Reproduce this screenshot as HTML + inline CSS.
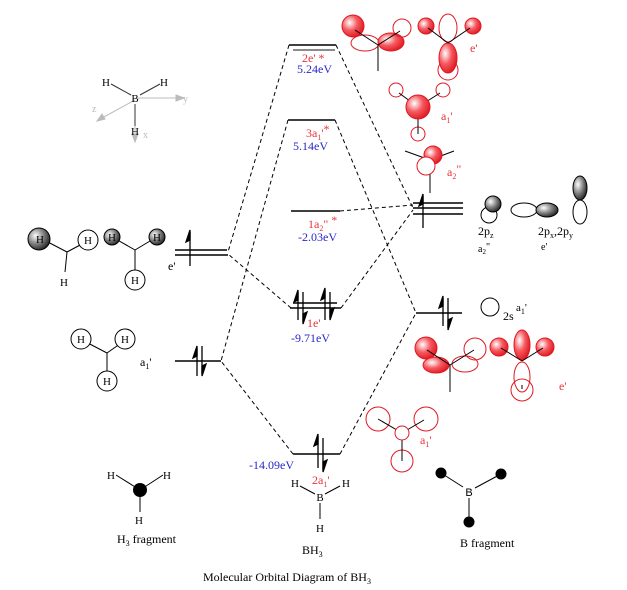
<!DOCTYPE html>
<html><head><meta charset="utf-8"><style>
html,body{margin:0;padding:0;background:#fff;}
svg{display:block;}
text{font-family:"Liberation Serif",serif;}
.s{font-family:"Liberation Sans",sans-serif;}
.r{fill:#e8343c;}
.b{fill:#2828c8;}
</style></head><body>
<svg width="627" height="590" viewBox="0 0 627 590" xmlns="http://www.w3.org/2000/svg">
<defs>
<radialGradient id="rg" cx="0.35" cy="0.35" r="0.7"><stop offset="0" stop-color="#fff"/><stop offset="0.5" stop-color="#f45a60"/><stop offset="1" stop-color="#e01822"/></radialGradient>
<radialGradient id="gg" cx="0.35" cy="0.35" r="0.7"><stop offset="0" stop-color="#fff"/><stop offset="0.5" stop-color="#888"/><stop offset="1" stop-color="#222"/></radialGradient>
</defs>

<!-- dashed connectors -->
<g stroke="#000" stroke-width="1" stroke-dasharray="4,3" fill="none">
<line x1="289" y1="45" x2="228" y2="252"/>
<line x1="336" y1="45" x2="413" y2="208"/>
<line x1="288" y1="120" x2="221" y2="361"/>
<line x1="335" y1="120" x2="416" y2="313"/>
<line x1="340" y1="211" x2="413" y2="205"/>
<line x1="291" y1="308" x2="228" y2="254"/>
<line x1="341" y1="308" x2="413" y2="210"/>
<line x1="293" y1="454" x2="221" y2="361"/>
<line x1="340" y1="454" x2="416" y2="313"/>
</g>

<!-- levels -->
<g stroke="#000" stroke-width="1.5">
<line x1="289" y1="45" x2="336" y2="45"/>
<line x1="293" y1="50" x2="335" y2="50" stroke="#666"/>
<line x1="288" y1="120" x2="335" y2="120"/>
<line x1="291" y1="211" x2="340" y2="211"/>
<line x1="293" y1="303" x2="337" y2="303"/>
<line x1="290" y1="308" x2="341" y2="308"/>
<line x1="293" y1="454" x2="340" y2="454"/>
<line x1="175" y1="250" x2="227" y2="250"/>
<line x1="175" y1="255" x2="228" y2="255"/>
<line x1="175" y1="361" x2="221" y2="361"/>
<line x1="413" y1="203" x2="463" y2="203"/>
<line x1="413" y1="208" x2="463" y2="208"/>
<line x1="413" y1="214" x2="463" y2="214"/>
<line x1="416" y1="313" x2="462" y2="313"/>
</g>

<!-- electrons -->
<g stroke="#000" stroke-width="1.3" fill="#000">
<!-- left e' single up -->
<line x1="190" y1="266" x2="190" y2="232"/><polygon points="190,230 186,242 190,240"/>
<!-- left a1' pair -->
<line x1="197" y1="376" x2="197" y2="348"/><polygon points="197,346 193,358 197,356"/>
<line x1="202" y1="346" x2="202" y2="374"/><polygon points="202,376 206,364 202,366"/>
<!-- 1e' pairs -->
<line x1="298" y1="320" x2="298" y2="292"/><polygon points="298,290 294,302 298,300"/>
<line x1="303" y1="292" x2="303" y2="322"/><polygon points="303,324 307,312 303,314"/>
<line x1="325" y1="320" x2="325" y2="290"/><polygon points="325,288 321,300 325,298"/>
<line x1="330" y1="292" x2="330" y2="318"/><polygon points="330,320 334,308 330,310"/>
<!-- 2a1' -->
<line x1="318" y1="468" x2="318" y2="436"/><polygon points="318,434 314,446 318,444"/>
<line x1="323" y1="438" x2="323" y2="470"/><polygon points="323,472 327,460 323,462"/>
<!-- 2s -->
<line x1="443" y1="326" x2="443" y2="298"/><polygon points="443,296 439,308 443,306"/>
<line x1="448" y1="298" x2="448" y2="328"/><polygon points="448,330 452,318 448,320"/>
<!-- 2p single up -->
<line x1="423" y1="228" x2="423" y2="196"/><polygon points="423,194 419,206 423,204"/>
</g>

<!-- level labels -->
<g font-size="12">
<text x="302" y="62" class="r">2e' *</text>
<text x="297" y="73" class="b">5.24eV</text>
<text x="306" y="137" class="r">3a<tspan font-size="8" dy="3">1</tspan><tspan dy="-3">'</tspan><tspan dy="-4">*</tspan></text>
<text x="293" y="150" class="b">5.14eV</text>
<text x="308" y="228" class="r">1a<tspan font-size="8" dy="3">2</tspan><tspan dy="-3">"  </tspan><tspan dy="-4">*</tspan></text>
<text x="298" y="241" class="b">-2.03eV</text>
<text x="307" y="327" class="r">1e'</text>
<text x="291" y="342" class="b">-9.71eV</text>
<text x="249" y="469" class="b">-14.09eV</text>
<text x="312" y="484" class="r">2a<tspan font-size="8" dy="3">1</tspan><tspan dy="-3">'</tspan></text>
<text x="168" y="270">e'</text>
<text x="140" y="366">a<tspan font-size="8" dy="3">1</tspan><tspan dy="-3">'</tspan></text>
</g>

<!-- top e' orbitals -->
<g stroke="#e01822" stroke-width="1">
<ellipse cx="365" cy="43" rx="14" ry="8" fill="#fff"/>
<circle cx="353" cy="26" r="11" fill="url(#rg)"/>
<ellipse cx="391" cy="42" rx="13" ry="9" fill="url(#rg)"/>
<circle cx="402" cy="28" r="9" fill="none"/>
<ellipse cx="448" cy="28" rx="9" ry="14" fill="#fff"/>
<circle cx="426" cy="26" r="8" fill="url(#rg)"/>
<circle cx="473" cy="26" r="8" fill="url(#rg)"/>
<circle cx="448" cy="70" r="10" fill="none"/>
<ellipse cx="448" cy="58" rx="9" ry="15" fill="url(#rg)"/>
</g>
<g stroke="#000" stroke-width="1">
<line x1="378" y1="45" x2="378" y2="71"/><line x1="378" y1="45" x2="355" y2="30"/><line x1="378" y1="45" x2="400" y2="31"/>
<line x1="448" y1="43" x2="428" y2="28"/><line x1="448" y1="43" x2="470" y2="28"/>
</g>
<text x="470" y="52" font-size="12" class="r">e'</text>

<!-- a1' top -->
<g stroke="#e01822" fill="none"><circle cx="396" cy="90" r="7"/><circle cx="443" cy="90" r="7"/><circle cx="418" cy="134" r="7"/></g>
<g stroke="#000"><line x1="418" y1="107" x2="399" y2="93"/><line x1="418" y1="107" x2="440" y2="93"/><line x1="418" y1="107" x2="418" y2="134"/></g>
<circle cx="418" cy="107" r="12" fill="url(#rg)" stroke="#e01822"/>
<text x="441" y="120" font-size="12" class="r">a<tspan font-size="8" dy="3">1</tspan><tspan dy="-3">'</tspan></text>

<!-- a2'' -->
<g stroke="#000"><line x1="430" y1="160" x2="405" y2="151"/><line x1="430" y1="160" x2="454" y2="151"/><line x1="430" y1="160" x2="430" y2="193"/></g>
<circle cx="433" cy="155" r="9" fill="url(#rg)" stroke="#e01822"/>
<circle cx="426" cy="166" r="9" fill="#fff" stroke="#e01822"/>
<text x="447" y="176" font-size="12" class="r">a<tspan font-size="8" dy="3">2</tspan><tspan dy="-6">"</tspan></text>

<!-- B 2p -->
<circle cx="489" cy="215" r="8" fill="#fff" stroke="#000"/>
<circle cx="493" cy="204" r="8" fill="url(#gg)" stroke="#000"/>
<ellipse cx="524" cy="210" rx="13" ry="7" fill="#fff" stroke="#000"/>
<ellipse cx="547" cy="210" rx="11" ry="7" fill="url(#gg)" stroke="#000"/>
<ellipse cx="580" cy="212" rx="7" ry="12" fill="#fff" stroke="#000"/>
<ellipse cx="580" cy="188" rx="7" ry="12" fill="url(#gg)" stroke="#000"/>
<text x="478" y="235" font-size="12">2p<tspan font-size="8" dy="3">z</tspan></text>
<text x="478" y="252" font-size="10">a<tspan font-size="7" dy="2">2</tspan><tspan dy="-4">"</tspan></text>
<text x="538" y="235" font-size="12">2p<tspan font-size="8" dy="3">x</tspan><tspan dy="-3">,2p</tspan><tspan font-size="8" dy="3">y</tspan></text>
<text x="541" y="250" font-size="10">e'</text>
<circle cx="490" cy="307" r="9" fill="#fff" stroke="#000"/>
<text x="503" y="320" font-size="12">2s</text>
<text x="516" y="311" font-size="11">a<tspan font-size="8" dy="3">1</tspan><tspan dy="-3">'</tspan></text>

<!-- lower e' red -->
<g stroke="#e01822">
<ellipse cx="465" cy="364" rx="13" ry="8" fill="#fff"/>
<circle cx="475" cy="349" r="11" fill="none"/>
<circle cx="426" cy="348" r="11" fill="url(#rg)"/>
<ellipse cx="436" cy="365" rx="13" ry="8" fill="url(#rg)"/>
<circle cx="522" cy="390" r="11" fill="#fff"/>
<ellipse cx="522" cy="377" rx="8" ry="15" fill="none"/>
<ellipse cx="522" cy="345" rx="8" ry="15" fill="url(#rg)"/>
<circle cx="499" cy="347" r="9" fill="url(#rg)"/>
<circle cx="545" cy="347" r="9" fill="url(#rg)"/>
</g>
<g stroke="#000"><line x1="450" y1="365" x2="427" y2="350"/><line x1="450" y1="365" x2="474" y2="350"/><line x1="450" y1="365" x2="450" y2="392"/>
<line x1="522" y1="361" x2="501" y2="348"/><line x1="522" y1="361" x2="543" y2="348"/><line x1="522" y1="385" x2="522" y2="389"/></g>
<text x="559" y="390" font-size="12" class="r">e'</text>

<!-- lower a1' red -->
<g stroke="#e01822" fill="none"><circle cx="378" cy="419" r="12"/><circle cx="426" cy="419" r="12"/><circle cx="402" cy="461" r="11"/></g>
<g stroke="#000"><line x1="402" y1="433" x2="378" y2="419"/><line x1="402" y1="433" x2="424" y2="420"/><line x1="402" y1="433" x2="402" y2="461"/></g>
<circle cx="402" cy="433" r="7" fill="#fff" stroke="#e01822"/>
<text x="420" y="444" font-size="12" class="r">a<tspan font-size="8" dy="3">1</tspan><tspan dy="-3">'</tspan></text>

<!-- H3 e' pics -->
<g stroke="#000" fill="none"><line x1="67" y1="252" x2="44" y2="240"/><line x1="67" y1="252" x2="82" y2="244"/><line x1="67" y1="252" x2="65" y2="272"/>
<line x1="135" y1="250" x2="114" y2="238"/><line x1="135" y1="250" x2="155" y2="238"/><line x1="135" y1="250" x2="135" y2="272"/></g>
<circle cx="39" cy="239" r="11" fill="url(#gg)" stroke="#000"/>
<circle cx="88" cy="240" r="10" fill="#fff" stroke="#000"/>
<circle cx="112" cy="237" r="8" fill="url(#gg)" stroke="#000"/>
<circle cx="157" cy="237" r="8" fill="url(#gg)" stroke="#000"/>
<circle cx="135" cy="280" r="10" fill="#fff" stroke="#000"/>
<g class="s" font-size="11" text-anchor="middle">
<text x="40" y="243">H</text><text x="88" y="244">H</text><text x="64" y="286">H</text>
<text x="112" y="241">H</text><text x="157" y="241">H</text><text x="135" y="284">H</text>
</g>
<!-- H3 a1' pic -->
<g stroke="#000" fill="none"><line x1="107" y1="353" x2="84" y2="341"/><line x1="107" y1="353" x2="124" y2="341"/><line x1="107" y1="353" x2="107" y2="372"/></g>
<g fill="#fff" stroke="#000"><circle cx="81" cy="339" r="10"/><circle cx="125" cy="339" r="10"/><circle cx="107" cy="381" r="10"/></g>
<g class="s" font-size="11" text-anchor="middle"><text x="81" y="343">H</text><text x="125" y="343">H</text><text x="107" y="385">H</text></g>

<!-- axes -->
<g stroke="#bbb" fill="#bbb">
<line x1="138" y1="98" x2="178" y2="98"/><polygon points="184,98 176,95 176,101"/>
<line x1="135" y1="100" x2="102" y2="118"/><polygon points="97,121 102,114 105,119"/>
<line x1="135" y1="108" x2="135" y2="136"/><polygon points="135,142 132,134 138,134"/>
</g>
<g stroke="#333"><line x1="111" y1="84" x2="131" y2="95"/><line x1="160" y1="84" x2="140" y2="95"/><line x1="135" y1="104" x2="135" y2="126"/></g>
<g class="s" font-size="11" text-anchor="middle"><text x="106" y="86">H</text><text x="164" y="86">H</text><text x="135" y="102">B</text><text x="135" y="135">H</text></g>
<g class="s" font-size="10" fill="#bbb"><text x="183" y="102">y</text><text x="92" y="112">z</text><text x="143" y="138">x</text></g>

<!-- bottom structures -->
<g stroke="#000"><line x1="116" y1="475" x2="140" y2="490"/><line x1="163" y1="475" x2="140" y2="490"/><line x1="140" y1="490" x2="140" y2="512"/></g>
<circle cx="140" cy="490" r="7" fill="#000"/>
<g class="s" font-size="11" text-anchor="middle"><text x="111" y="479">H</text><text x="167" y="479">H</text><text x="139" y="524">H</text></g>
<text x="117" y="543" font-size="12">H<tspan font-size="8" dy="3">3</tspan><tspan dy="-3"> fragment</tspan></text>

<g stroke="#000"><line x1="300" y1="486" x2="315" y2="494"/><line x1="340" y1="486" x2="325" y2="494"/><line x1="320" y1="503" x2="320" y2="519"/></g>
<g class="s" font-size="11" text-anchor="middle"><text x="295" y="487">H</text><text x="346" y="487">H</text><text x="320" y="501">B</text><text x="320" y="532">H</text></g>
<text x="302" y="554" font-size="12">BH<tspan font-size="8" dy="3">3</tspan></text>

<g stroke="#000"><line x1="441" y1="473" x2="463" y2="487"/><line x1="501" y1="474" x2="475" y2="488"/><line x1="469" y1="498" x2="469" y2="521"/></g>
<g fill="#000"><circle cx="441" cy="473" r="5.5"/><circle cx="501" cy="474" r="5.5"/><circle cx="469" cy="522" r="5.5"/></g>
<text x="469" y="496" class="s" font-size="11" text-anchor="middle">B</text>
<text x="460" y="547" font-size="12">B fragment</text>

<text x="203" y="581" font-size="12">Molecular Orbital Diagram of BH<tspan font-size="8" dy="3">3</tspan></text>
</svg>
</body></html>
